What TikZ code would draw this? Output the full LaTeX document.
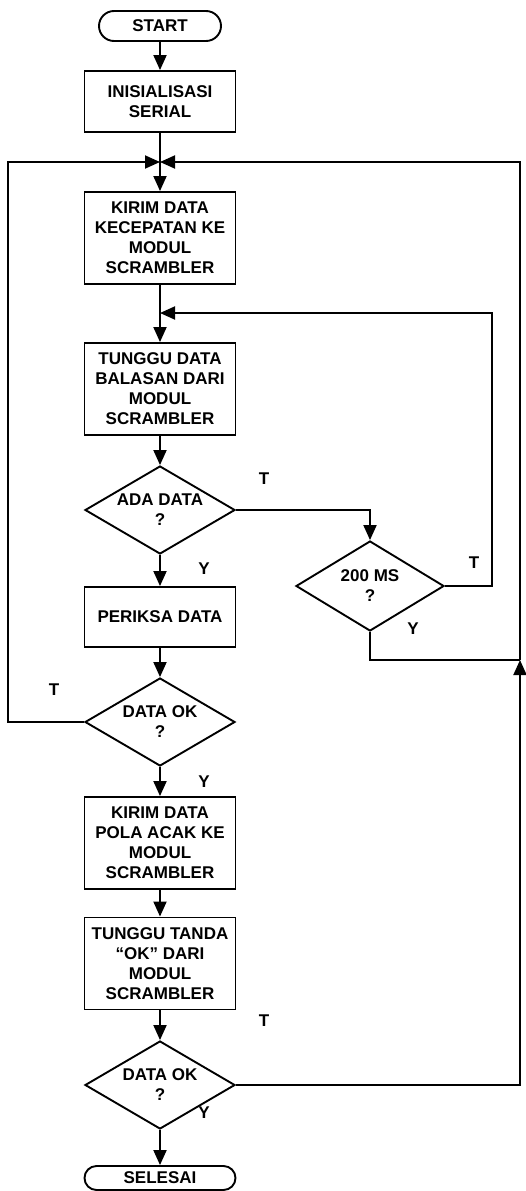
\documentclass[tikz,border=0pt]{standalone}
\usepackage{fontspec}
\setmainfont{Liberation Sans}
\usetikzlibrary{shapes,arrows.meta}
\tikzstyle{block} = [rectangle, draw, align=center,
    minimum width=151pt, minimum height=92pt, inner sep=2pt]
\tikzstyle{shortblock} = [block, minimum height=61pt]
\tikzstyle{decision} = [diamond, draw, align=center, aspect=1.7,
    inner sep=-2pt, minimum width=150pt, minimum height=88pt]
\tikzstyle{terminal} = [rounded rectangle, draw, inner sep=0pt,
    minimum width=122pt, minimum height=30pt]
\tikzstyle{lbl} = [inner sep=0pt]
\tikzstyle{line} = [draw, -{Triangle[length=15pt,width=13pt]}]

\begin{document}
\begin{tikzpicture}[x=1pt, y=-1pt, line width=1.9pt,
    every node/.style={font=\fontsize{17}{20}\selectfont\bfseries}]
    \useasboundingbox (0,0) rectangle (526,1191);
    % Place nodes
    \node [terminal] (start) at (160,26) {START};
    \node [shortblock, below of=start, node distance=75.5pt] (init) {INISIALISASI\\SERIAL};
    \node [block, below of=init, node distance=136.5pt] (kirim1) {KIRIM DATA\\KECEPATAN KE\\MODUL\\SCRAMBLER};
    \node [block, below of=kirim1, node distance=151pt] (tunggu1) {TUNGGU DATA\\BALASAN DARI\\MODUL\\SCRAMBLER};
    \node [decision, below of=tunggu1, node distance=121pt] (ada) {ADA DATA\\?};
    \node [decision, minimum width=148pt, minimum height=90pt] (ms) at (370,586) {200 MS\\?};
    \node [shortblock, minimum height=60pt, below of=ada, node distance=107pt] (periksa) {PERIKSA DATA};
    \node [decision, below of=periksa, node distance=105pt] (ok1) {DATA OK\\?};
    \node [block, below of=ok1, node distance=121pt] (kirim2) {KIRIM DATA\\POLA ACAK KE\\MODUL\\SCRAMBLER};
    \node [block, below of=kirim2, node distance=120.5pt] (tunggu2) {TUNGGU TANDA\\“OK” DARI\\MODUL\\SCRAMBLER};
    \node [decision, below of=tunggu2, node distance=121.5pt] (ok2) {DATA OK\\?};
    \node [terminal, minimum width=151pt, minimum height=24pt, below of=ok2, node distance=93pt] (selesai) {SELESAI};
    \coordinate (m1) at (160,162);
    \coordinate (m2) at (160,313);
    \coordinate (j1) at (520,660);
    % Labels
    \node [lbl] (tada) at (264,479) {T};
    \node [lbl] (yada) at (204,569) {Y};
    \node [lbl] (tms) at (474,563) {T};
    \node [lbl] (yms) at (413,629) {Y};
    \node [lbl] (tok1) at (54,690) {T};
    \node [lbl] (yok1) at (204,782) {Y};
    \node [lbl] (tok2) at (264,1021) {T};
    \node [lbl] (yok2) at (204,1113) {Y};
    % Draw edges
    \path [line] (start) -- (init);
    \path [line] (init) -- (kirim1);
    \path [line] (kirim1) -- (tunggu1);
    \path [line] (tunggu1) -- (ada);
    \path [line] (ada) -- (periksa);
    \path [line] (ada.east) -| (ms.north);
    \path [line] (ms.east) -- ++(47,0) |- (m2);
    \draw (ms.south) |- (j1);
    \path [line] (periksa) -- (ok1);
    \path [line] (ok1.west) -- ++(-76,0) |- (m1);
    \path [line] (ok1) -- (kirim2);
    \path [line] (kirim2) -- (tunggu2);
    \path [line] (tunggu2) -- (ok2);
    \path [line] (ok2.east) -| (j1);
    \path [line] (j1) |- (m1);
    \path [line] (ok2) -- (selesai);
\end{tikzpicture}
\end{document}
